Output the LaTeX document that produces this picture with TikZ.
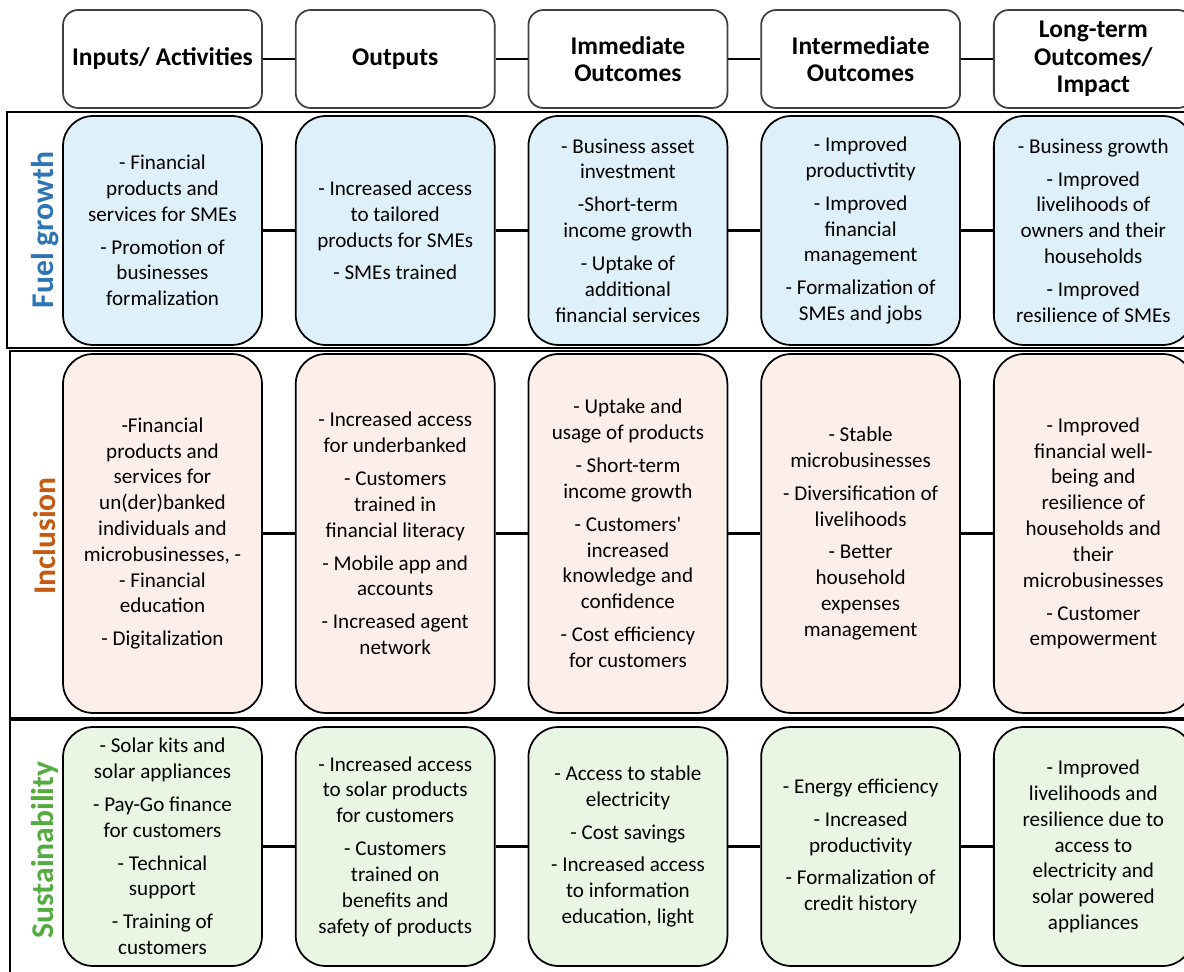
\documentclass[tikz,border=0pt]{standalone}
\usepackage{fontspec}
\setmainfont{Carlito}
\usepackage{tikz}
\usetikzlibrary{positioning}
\definecolor{fuelfill}{RGB}{222,240,249}
\definecolor{inclfill}{RGB}{252,239,233}
\definecolor{sustfill}{RGB}{233,246,228}
\definecolor{fuelcol}{RGB}{46,117,182}
\definecolor{inclcol}{RGB}{197,90,17}
\definecolor{sustcol}{RGB}{84,172,64}
\newcommand{\gap}{\\[4pt]}

\begin{document}
\begin{tikzpicture}[
  x=0.02cm, y=-0.02cm,
  font=\fontsize{12}{14.7}\selectfont,
  hdr/.style={draw=black!75, line width=1pt, rounded corners=0.3cm, minimum width=3.98cm, minimum height=1.96cm, align=center, inner sep=1pt, font=\fontsize{14.5}{15.6}\selectfont\bfseries},
  cell/.style={draw, line width=1pt, rounded corners=0.6cm, minimum width=3.98cm, align=center, inner sep=1pt},
  fuel/.style={cell, fill=fuelfill, minimum height=4.58cm},
  incl/.style={cell, fill=inclfill, minimum height=7.18cm},
  sust/.style={cell, fill=sustfill, minimum height=4.78cm},
  lbl/.style={rotate=90, font=\fontsize{18}{20}\selectfont\bfseries},
  ln/.style={line width=1.2pt}
]
\useasboundingbox (0,0) rectangle (1184,972);
% row frames
\draw[line width=0.8pt] (7,112) rectangle (1210,348);
\draw[line width=0.8pt] (10,351) rectangle (1210,718);
\draw[line width=0.8pt] (10,720) rectangle (1210,990);

% headers
\node[hdr] (h1) at (162.5,59) {Inputs/ Activities};
\node[hdr, right=0.64cm of h1] (h2) {Outputs};
\node[hdr, right=0.64cm of h2] (h3) {Immediate\\Outcomes};
\node[hdr, right=0.64cm of h3] (h4) {Intermediate\\Outcomes};
\node[hdr, right=0.64cm of h4] (h5) {Long-term\\Outcomes/\\Impact};

% fuel growth
\node[lbl, text=fuelcol] (lf) at (45,230) {Fuel growth};
\node[fuel] (f1) at (162.5,230.5) {- Financial\\products and\\services for SMEs\gap- Promotion of\\businesses\\formalization};
\node[fuel, right=0.64cm of f1] (f2) {- Increased access\\to tailored\\products for SMEs\gap- SMEs trained};
\node[fuel, right=0.64cm of f2] (f3) {- Business asset\\investment\gap-Short-term\\income growth\gap- Uptake of\\additional\\financial services};
\node[fuel, right=0.64cm of f3] (f4) {- Improved\\productivtity\gap- Improved\\financial\\management\gap- Formalization of\\SMEs and jobs};
\node[fuel, right=0.64cm of f4] (f5) {- Business growth\gap- Improved\\livelihoods of\\owners and their\\households\gap- Improved\\resilience of SMEs};

% inclusion
\node[lbl, text=inclcol] (li) at (45,536) {Inclusion};
\node[incl] (i1) at (162.5,533.5) {-Financial\\products and\\services for\\un(der)banked\\individuals and\\microbusinesses, -\\- Financial\\education\gap- Digitalization};
\node[incl, right=0.64cm of i1] (i2) {- Increased access\\for underbanked\gap- Customers\\trained in\\financial literacy\gap- Mobile app and\\accounts\gap- Increased agent\\network};
\node[incl, right=0.64cm of i2] (i3) {- Uptake and\\usage of products\gap- Short-term\\income growth\gap- Customers\textquotesingle\\increased\\knowledge and\\confidence\gap- Cost efficiency\\for customers};
\node[incl, right=0.64cm of i3] (i4) {- Stable\\microbusinesses\gap- Diversification of\\livelihoods\gap- Better\\household\\expenses\\management};
\node[incl, right=0.64cm of i4] (i5) {- Improved\\financial well-\\being and\\resilience of\\households and\\their\\microbusinesses\gap- Customer\\empowerment};

% sustainability
\node[lbl, text=sustcol] (ls) at (45,850) {Sustainability};
\node[sust] (s1) at (162.5,846.5) {- Solar kits and\\solar appliances\gap- Pay-Go finance\\for customers\gap- Technical\\support\gap- Training of\\customers};
\node[sust, right=0.64cm of s1] (s2) {- Increased access\\to solar products\\for customers\gap- Customers\\trained on\\benefits and\\safety of products};
\node[sust, right=0.64cm of s2] (s3) {- Access to stable\\electricity\gap- Cost savings\gap- Increased access\\to information\\education, light};
\node[sust, right=0.64cm of s3] (s4) {- Energy efficiency\gap- Increased\\productivity\gap- Formalization of\\credit history};
\node[sust, right=0.64cm of s4] (s5) {- Improved\\livelihoods and\\resilience due to\\access to\\electricity and\\solar powered\\appliances};

% links
\foreach \r in {h,f,i,s}
  \foreach \a/\b in {1/2,2/3,3/4,4/5}
    \draw[ln] (\r\a.east) -- (\r\b.west);
\end{tikzpicture}
\end{document}
